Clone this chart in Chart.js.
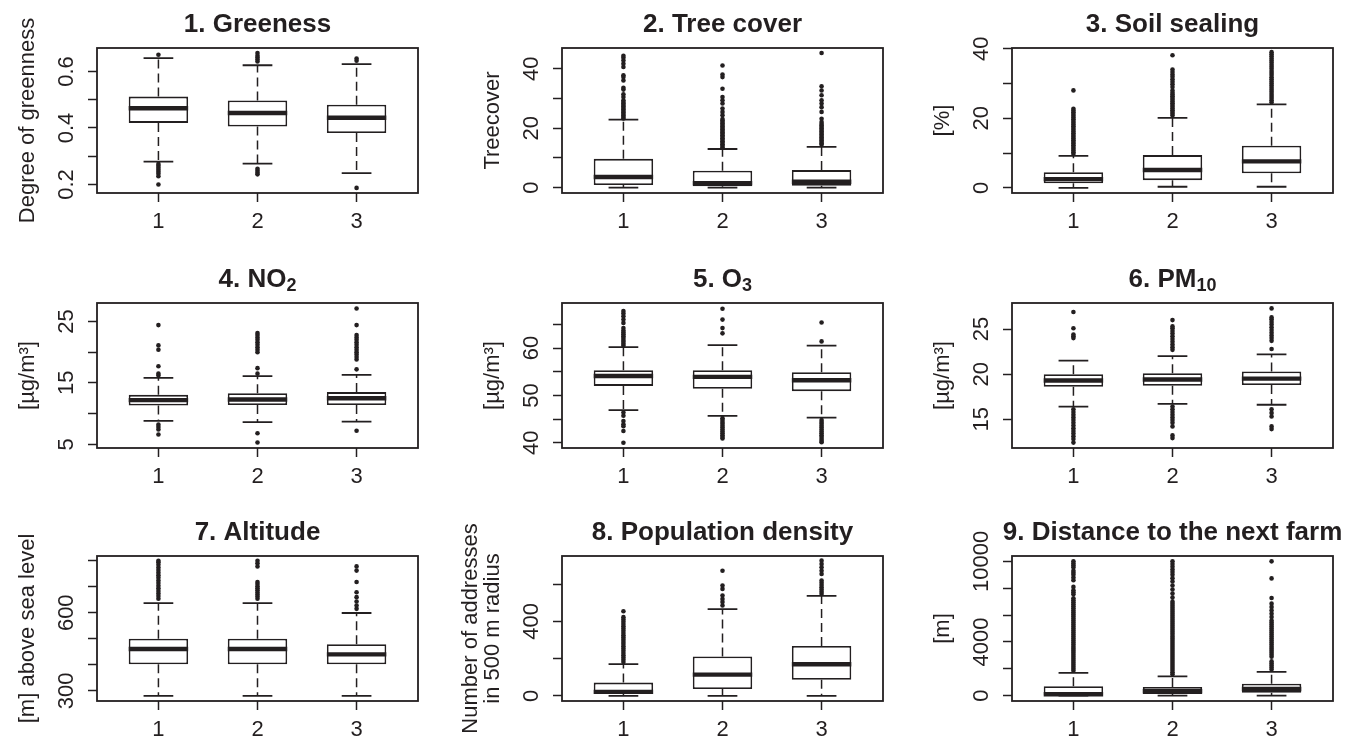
<!DOCTYPE html>
<html>
<head>
<meta charset="utf-8">
<title>Boxplots by cluster</title>
<script src="https://cdn.jsdelivr.net/npm/chart.js@4.4.1/dist/chart.umd.min.js"></script>
<style>
  html, body { margin: 0; padding: 0; background: #fff; overflow: hidden; }
  #wrap { position: relative; width: 1355px; height: 739px; overflow: hidden; }
  #wrap canvas { position: absolute; }
</style>
</head>
<body>
<div id="wrap"></div>
<script>
// groups on the x axis
const groups = ['1', '2', '3'];
const xRange = [0.38, 3.62];

const titleMain = ['1. Greeness', '2. Tree cover', '3. Soil sealing', '4. NO', '5. O', '6. PM',
  '7. Altitude', '8. Population density', '9. Distance to the next farm'];
const titleSub = ['', '', '', '2', '3', '10', '', '', ''];
const yTitles = ['Degree of greenness', 'Treecover', '[%]', '[µg/m³]', '[µg/m³]', '[µg/m³]',
  '[m] above sea level', ['Number of addresses', 'in 500 m radius'], '[m]'];

// each box: [lower whisker, Q1, median, Q3, upper whisker]

// 1. Greeness
const greenTicks = [0.2, 0.3, 0.4, 0.5, 0.6];
const greenTickLabels = ['0.2', '', '0.4', '', '0.6'];
const greenRange = [0.170, 0.683];
const greenBoxes = [[0.281, 0.418, 0.470, 0.511, 0.647], [0.274, 0.405, 0.453, 0.497, 0.622], [0.240, 0.382, 0.436, 0.482, 0.626]];
const greenOutliers = [
  [0.659, 0.273, 0.266, 0.259, 0.252, 0.245, 0.238, 0.229, 0.200],
  [0.665, 0.656, 0.649, 0.642, 0.635, 0.256, 0.249, 0.242, 0.236],
  [0.646, 0.638, 0.188]
];

// 2. Tree cover
const treeTicks = [0, 10, 20, 30, 40];
const treeTickLabels = ['0', '', '20', '', '40'];
const treeRange = [-1.8, 47.0];
const treeBoxes = [[0, 0.9, 3.6, 9.7, 22.9], [0, 0.5, 1.5, 5.7, 13.0], [0, 0.6, 2.0, 5.9, 13.7]];
const treeOutliers = [
  [23.3, 23.8, 24.3, 24.8, 25.3, 25.8, 26.3, 26.8, 27.3, 27.8, 28.3, 28.8, 29.4, 30.5, 31.4, 33.0, 33.6, 36.1, 37.2, 37.8, 40.6, 41.7, 42.8, 43.7, 44.4],
  [13.6, 14.1, 14.6, 15.1, 15.6, 16.1, 16.6, 17.1, 17.6, 18.1, 18.6, 19.1, 19.6, 20.1, 20.6, 21.1, 21.6, 22.1, 22.6, 23.1, 24.4, 25.5, 26.6, 28.3, 29.4, 30.5, 33.3, 37.2, 38.1, 41.1],
  [14.4, 14.9, 15.4, 15.9, 16.4, 16.9, 17.4, 17.9, 18.4, 18.9, 19.4, 19.9, 20.4, 20.9, 21.4, 22.1, 23.2, 25.5, 27.1, 28.3, 29.4, 31.1, 32.7, 34.1, 45.3]
];

// 3. Soil sealing
const soilTicks = [0, 10, 20, 30, 40];
const soilTickLabels = ['0', '', '20', '', '40'];
const soilRange = [-1.5, 40.2];
const soilBoxes = [[0, 1.3, 2.5, 4.5, 9.2], [0.3, 2.2, 5.1, 9.4, 20.1], [0.3, 4.2, 7.6, 12.1, 24.0]];
const soilOutliers = [
  [9.7, 10.2, 10.7, 11.2, 11.7, 12.2, 12.7, 13.2, 13.7, 14.2, 14.7, 15.2, 15.7, 16.2, 16.7, 17.2, 17.7, 18.2, 18.7, 19.2, 19.7, 20.2, 20.7, 21.2, 21.7, 22.2, 22.7, 28.0],
  [20.8, 21.3, 21.8, 22.3, 22.8, 23.3, 23.8, 24.3, 24.8, 25.3, 25.8, 26.3, 26.8, 27.3, 28.0, 29.0, 29.8, 30.5, 31.2, 31.9, 32.6, 33.3, 34.0, 38.1],
  [24.6, 25.2, 25.8, 26.4, 27.0, 27.6, 28.2, 28.8, 29.4, 30.0, 30.6, 31.2, 31.8, 32.4, 33.0, 33.6, 34.2, 34.8, 35.4, 36.0, 36.6, 37.2, 37.8, 38.4, 39.0]
];

// 4. NO2
const no2Ticks = [5, 10, 15, 20, 25];
const no2TickLabels = ['5', '', '15', '', '25'];
const no2Range = [4.4, 28.0];
const no2Boxes = [[8.8, 11.3, 12.2, 13.05, 15.8], [8.6, 11.4, 12.3, 13.3, 16.1], [8.7, 11.4, 12.5, 13.5, 16.3]];
const no2Outliers = [
  [16.2, 16.5, 17.7, 20.4, 21.1, 24.4, 8.2, 7.8, 7.4, 6.6],
  [16.5, 17.4, 20.0, 20.4, 20.8, 21.2, 21.6, 22.0, 22.4, 22.8, 23.1, 6.8, 5.3],
  [17.2, 18.8, 19.2, 19.6, 20.0, 20.4, 20.8, 21.2, 21.6, 22.0, 22.4, 22.8, 24.4, 27.1, 7.2]
];

// 5. O3
const o3Ticks = [40, 45, 50, 55, 60, 65];
const o3TickLabels = ['40', '', '50', '', '60', ''];
const o3Range = [38.9, 69.5];
const o3Boxes = [[46.9, 52.0, 54.1, 55.3, 60.2], [45.7, 51.4, 53.9, 55.3, 60.6], [45.3, 50.9, 53.2, 54.9, 60.5]];
const o3Outliers = [
  [60.5, 60.9, 61.3, 61.7, 62.1, 62.5, 62.9, 63.3, 63.7, 64.2, 65.3, 66.0, 66.7, 67.3, 67.8, 46.4, 45.7, 44.6, 43.9, 43.5, 42.5, 40.0],
  [63.1, 64.2, 66.0, 68.3, 45.2, 44.8, 44.4, 44.0, 43.6, 43.2, 42.8, 42.4, 42.0, 41.6, 41.2, 40.9],
  [61.4, 65.4, 44.8, 44.4, 44.0, 43.6, 43.2, 42.8, 42.4, 42.0, 41.6, 41.2, 40.8, 40.4, 40.1]
];

// 6. PM10
const pmTicks = [15, 20, 25];
const pmTickLabels = ['15', '20', '25'];
const pmRange = [11.8, 27.9];
const pmBoxes = [[16.4, 18.6, 19.3, 20.0, 21.5], [16.7, 18.7, 19.4, 20.1, 22.0], [16.6, 18.8, 19.5, 20.3, 22.2]];
const pmOutliers = [
  [24.0, 24.2, 24.4, 25.1, 26.9, 16.1, 15.8, 15.5, 15.2, 14.9, 14.6, 14.3, 14.0, 13.7, 13.4, 13.1, 12.8, 12.4],
  [22.7, 23.0, 23.3, 23.6, 23.9, 24.2, 24.5, 24.8, 25.1, 25.3, 26.0, 16.4, 16.1, 15.8, 15.5, 15.2, 14.9, 14.6, 14.2, 13.2, 12.9],
  [22.8, 23.7, 24.0, 24.3, 24.6, 24.9, 25.2, 25.5, 25.8, 26.1, 26.3, 27.3, 16.1, 15.7, 15.3, 14.2, 13.9]
];

// 7. Altitude
const altTicks = [300, 400, 500, 600, 700, 800];
const altTickLabels = ['300', '', '', '600', '', ''];
const altRange = [261, 818];
const altBoxes = [[281, 402, 461, 500, 637], [281, 402, 461, 500, 637], [281, 402, 440, 479, 599]];
const altOutliers = [
  [654, 664, 674, 684, 694, 704, 714, 724, 734, 744, 754, 764, 774, 784, 794, 800],
  [654, 662, 670, 678, 686, 694, 702, 710, 718, 778, 790, 800],
  [615, 628, 643, 660, 679, 718, 762, 778]
];

// 8. Population density
const popTicks = [0, 200, 400, 600];
const popTickLabels = ['0', '', '400', ''];
const popRange = [-28, 752];
const popBoxes = [[0, 9, 21, 71, 170], [0, 36, 114, 211, 466], [0, 86, 170, 268, 538]];
const popOutliers = [
  [182, 194, 206, 218, 230, 242, 254, 266, 278, 290, 302, 314, 326, 338, 350, 362, 374, 386, 398, 410, 423, 455],
  [486, 504, 521, 539, 575, 593, 673],
  [548, 560, 572, 584, 596, 608, 620, 655, 673, 691, 709, 727]
];

// 9. Distance to the next farm
const farmTicks = [0, 2000, 4000, 6000, 8000, 10000];
const farmTickLabels = ['0', '', '4000', '', '', '10000'];
const farmRange = [-400, 10400];
const farmBoxes = [[0, 20, 100, 700, 1690], [0, 124, 322, 645, 1440], [0, 223, 496, 893, 1762]];
const farmOutliers = [
  [1850, 2000, 2150, 2300, 2450, 2600, 2750, 2900, 3050, 3200, 3350, 3500, 3650, 3800, 3950, 4100, 4250, 4400, 4550, 4700, 4850, 5000, 5150, 5300, 5450, 5600, 5750, 5900, 6050, 6200, 6350, 6500, 6650, 6800, 6950, 7100, 7250, 7550, 7700, 7850, 8100, 8600, 8800, 9000, 9150, 9300, 9550, 9700, 9850, 10000],
  [1600, 1750, 1900, 2050, 2200, 2350, 2500, 2650, 2800, 2950, 3100, 3250, 3400, 3550, 3700, 3850, 4000, 4150, 4300, 4450, 4600, 4750, 4900, 5050, 5200, 5350, 5500, 5650, 5800, 5950, 6100, 6250, 6400, 6550, 6700, 6850, 7000, 7300, 7600, 7900, 8200, 8500, 8750, 9000, 9200, 9400, 9600, 9800, 10000],
  [1950, 2100, 2250, 2400, 2550, 2900, 3050, 3200, 3350, 3500, 3650, 3800, 3950, 4100, 4250, 4400, 4550, 4700, 4850, 5000, 5150, 5300, 5450, 5600, 5850, 6100, 6350, 6600, 6850, 7270, 8730, 10000]
];

const allTicks = [greenTicks, treeTicks, soilTicks, no2Ticks, o3Ticks, pmTicks, altTicks, popTicks, farmTicks];
const allTickLabels = [greenTickLabels, treeTickLabels, soilTickLabels, no2TickLabels, o3TickLabels, pmTickLabels, altTickLabels, popTickLabels, farmTickLabels];
const allRanges = [greenRange, treeRange, soilRange, no2Range, o3Range, pmRange, altRange, popRange, farmRange];
const allBoxes = [greenBoxes, treeBoxes, soilBoxes, no2Boxes, o3Boxes, pmBoxes, altBoxes, popBoxes, farmBoxes];
const allOutliers = [greenOutliers, treeOutliers, soilOutliers, no2Outliers, o3Outliers, pmOutliers, altOutliers, popOutliers, farmOutliers];

// page layout (plot box of each panel)
const INK = '#231f20';
const FONT = '"Liberation Sans", Arial, Helvetica, sans-serif';
const colX = [97, 562, 1012];
const rowY = [48, 303, 556];
const PLOT_W = 321, PLOT_H = 145;
const Y_AXIS_W = 110, X_AXIS_H = 42, TOP_PAD = 48, RIGHT_PAD = 20;
const TICK_LEN = 9;
const AXIS_FONT = 22;
const LINE_W = 1.8;
const BOX_HALF = 0.3, CAP_HALF = 0.15;

Chart.defaults.font.family = FONT;
Chart.defaults.color = INK;

const measureCtx = document.createElement('canvas').getContext('2d');
function textWidth(str, px, weight) {
  measureCtx.font = (weight ? weight + ' ' : '') + px + 'px ' + FONT;
  return measureCtx.measureText(str).width;
}

function boxplotPlugin(boxes, main, sub) {
  return {
    id: 'boxplot',
    beforeDatasetsDraw(chart) {
      const {ctx, scales: {x, y}} = chart;
      ctx.save();
      ctx.strokeStyle = INK;
      boxes.forEach((b, i) => {
        const cx = x.getPixelForValue(i + 1);
        const capL = x.getPixelForValue(i + 1 - CAP_HALF);
        const capR = x.getPixelForValue(i + 1 + CAP_HALF);
        // dashed whiskers
        ctx.lineWidth = 1.5;
        ctx.setLineDash([9, 5]);
        ctx.beginPath();
        ctx.moveTo(cx, y.getPixelForValue(b[3]));
        ctx.lineTo(cx, y.getPixelForValue(b[4]));
        ctx.moveTo(cx, y.getPixelForValue(b[1]));
        ctx.lineTo(cx, y.getPixelForValue(b[0]));
        ctx.stroke();
        // staples
        ctx.setLineDash([]);
        ctx.lineWidth = LINE_W;
        ctx.beginPath();
        [b[0], b[4]].forEach(v => {
          const py = y.getPixelForValue(v);
          ctx.moveTo(capL, py);
          ctx.lineTo(capR, py);
        });
        ctx.stroke();
      });
      ctx.restore();
    },
    afterDatasetsDraw(chart) {
      const {ctx, scales: {x, y}} = chart;
      ctx.save();
      ctx.strokeStyle = INK;
      ctx.lineWidth = 4.4;
      ctx.lineCap = 'butt';
      boxes.forEach((b, i) => {
        const py = y.getPixelForValue(b[2]);
        ctx.beginPath();
        ctx.moveTo(x.getPixelForValue(i + 1 - BOX_HALF), py);
        ctx.lineTo(x.getPixelForValue(i + 1 + BOX_HALF), py);
        ctx.stroke();
      });
      ctx.restore();
    },
    afterDraw(chart) {
      const {ctx, chartArea: ca} = chart;
      ctx.save();
      ctx.strokeStyle = INK;
      ctx.lineWidth = LINE_W;
      ctx.strokeRect(ca.left, ca.top, ca.right - ca.left, ca.bottom - ca.top);
      // panel title, with an optional subscript
      ctx.fillStyle = INK;
      ctx.textAlign = 'left';
      ctx.textBaseline = 'alphabetic';
      const mainW = textWidth(main, 26, 'bold');
      const subW = sub ? textWidth(sub, 18, 'bold') : 0;
      const x0 = (ca.left + ca.right) / 2 - (mainW + subW) / 2;
      const base = ca.top - 16;
      ctx.font = 'bold 26px ' + FONT;
      ctx.fillText(main, x0, base);
      if (sub) {
        ctx.font = 'bold 18px ' + FONT;
        ctx.fillText(sub, x0 + mainW, base + 4);
      }
      ctx.restore();
    }
  };
}

function makePanel(i) {
  const col = i % 3, row = Math.floor(i / 3);
  const canvas = document.createElement('canvas');
  const w = Y_AXIS_W + PLOT_W + RIGHT_PAD;
  const h = TOP_PAD + PLOT_H + X_AXIS_H;
  canvas.width = w;
  canvas.height = h;
  canvas.style.width = w + 'px';
  canvas.style.height = h + 'px';
  canvas.style.left = (colX[col] - Y_AXIS_W) + 'px';
  canvas.style.top = (rowY[row] - TOP_PAD) + 'px';
  document.getElementById('wrap').appendChild(canvas);

  const ticks = allTicks[i], tickLabels = allTickLabels[i], boxes = allBoxes[i];
  const widest = Math.max(...tickLabels.map(t => textWidth(t, AXIS_FONT)));
  const yTitle = yTitles[i];
  const titleLines = Array.isArray(yTitle) ? yTitle.length : 1;
  // last title line sits 69px left of the plot box
  const titlePad = Y_AXIS_W - 69 - AXIS_FONT / 2 - (titleLines - 1) * AXIS_FONT;

  const points = [];
  allOutliers[i].forEach((list, g) => list.forEach(v => points.push({x: g + 1, y: v})));

  new Chart(canvas, {
    type: 'bar',
    data: {
      datasets: [
        {
          type: 'scatter',
          data: points,
          pointRadius: 2.3,
          pointBackgroundColor: INK,
          pointBorderWidth: 0,
          showLine: false
        },
        {
          type: 'bar',
          data: boxes.map((b, g) => ({x: g + 1, y: [b[1], b[3]]})),
          backgroundColor: '#ffffff',
          borderColor: INK,
          borderWidth: LINE_W,
          borderSkipped: false,
          barPercentage: BOX_HALF * 2,
          categoryPercentage: 1
        }
      ]
    },
    options: {
      responsive: false,
      devicePixelRatio: 1,
      animation: false,
      events: [],
      layout: {padding: {left: 0, right: RIGHT_PAD, top: TOP_PAD, bottom: 0}},
      plugins: {legend: {display: false}, tooltip: {enabled: false}, title: {display: false}},
      scales: {
        x: {
          type: 'linear',
          min: xRange[0],
          max: xRange[1],
          offset: false,
          border: {display: false},
          grid: {offset: false, drawOnChartArea: false, tickLength: TICK_LEN, tickWidth: 1.5, tickColor: INK},
          afterBuildTicks: scale => { scale.ticks = groups.map((g, k) => ({value: k + 1})); },
          afterFit: scale => { scale.height = X_AXIS_H; },
          ticks: {
            autoSkip: false,
            maxRotation: 0,
            padding: 7,
            font: {size: AXIS_FONT},
            color: INK,
            callback: (v, k) => groups[k]
          }
        },
        y: {
          type: 'linear',
          bounds: 'data',
          min: allRanges[i][0],
          max: allRanges[i][1],
          border: {display: false},
          grid: {drawOnChartArea: false, tickLength: TICK_LEN, tickWidth: 1.5, tickColor: INK},
          afterBuildTicks: scale => { scale.ticks = ticks.map(v => ({value: v})); },
          afterFit: scale => { scale.width = Y_AXIS_W; },
          ticks: {
            autoSkip: false,
            minRotation: 90,
            maxRotation: 90,
            crossAlign: 'center',
            padding: 30 - TICK_LEN - widest / 2,
            font: {size: AXIS_FONT},
            color: INK,
            callback: (v, k) => tickLabels[k]
          },
          title: {
            display: true,
            text: yTitle,
            color: INK,
            font: {size: AXIS_FONT, lineHeight: 1},
            padding: {top: titlePad, bottom: 0}
          }
        }
      }
    },
    plugins: [boxplotPlugin(boxes, titleMain[i], titleSub[i])]
  });
}

for (let i = 0; i < 9; i++) makePanel(i);
</script>
</body>
</html>
